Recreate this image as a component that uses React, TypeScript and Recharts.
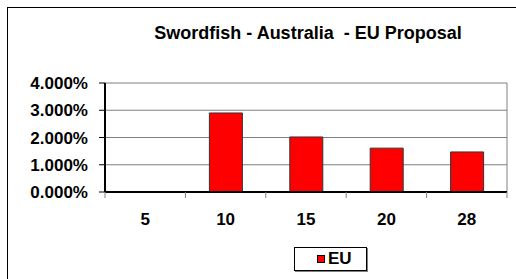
import React from 'react';
import { BarChart, Bar, XAxis, YAxis, CartesianGrid, Legend } from 'recharts';

const categories = ['5', '10', '15', '20', '28'];
const euValues = [0, 0.029, 0.0202, 0.0161, 0.0147];
const yTicks = [0, 0.01, 0.02, 0.03, 0.04];
const title = 'Swordfish - Australia  - EU Proposal';
const seriesName = 'EU';

const data = categories.map((c, i) => ({ cat: c, EU: euValues[i] }));

const FONT = '"Liberation Sans", Arial, sans-serif';

const XTick = (props: any) => {
  const { x, y, payload, index, visibleTicksCount } = props;
  const off = payload && typeof payload.offset === 'number' ? payload.offset : 0;
  const last = index === (visibleTicksCount ?? categories.length) - 1;
  return (
    <g>
      <line x1={x - off} x2={x - off} y1={y} y2={y + 6} stroke="#808080" strokeWidth={1} />
      {last && <line x1={x + off} x2={x + off} y1={y} y2={y + 6} stroke="#808080" strokeWidth={1} />}
      <text x={x} y={y + 33} textAnchor="middle" fontFamily={FONT} fontWeight="bold" fontSize={17} fill="#000">
        {payload.value}
      </text>
    </g>
  );
};

const LegendContent = () => (
  <div style={{ height: 32, position: 'relative' }}>
    <div
      style={{
        position: 'absolute',
        left: 294,
        top: 0,
        width: 71,
        height: 22,
        border: '1px solid #000',
        boxShadow: '1px 1px 0 #808080',
        background: '#fff',
        fontFamily: FONT,
        fontWeight: 'bold',
        fontSize: 17,
      }}
    >
      <div
        style={{
          position: 'absolute',
          left: 22,
          top: 7,
          width: 6,
          height: 6,
          background: '#FF0000',
          border: '1px solid #000',
        }}
      />
      <div style={{ position: 'absolute', left: 33, top: 2, lineHeight: '18px', color: '#000' }}>{seriesName}</div>
    </div>
  </div>
);

export default function App() {
  return (
    <div style={{ position: 'absolute', left: 0, top: 0, width: 516, height: 279, overflow: 'hidden', background: '#fff' }}>
      <div
        style={{
          position: 'absolute',
          left: 7,
          top: 7,
          width: 700,
          height: 500,
          border: '1px solid #000',
        }}
      />
      <div
        style={{
          position: 'absolute',
          left: 0,
          top: 24,
          width: 616,
          textAlign: 'center',
          fontFamily: FONT,
          fontWeight: 'bold',
          fontSize: 18,
          lineHeight: '18px',
          color: '#000',
          whiteSpace: 'pre',
          zIndex: 2,
        }}
      >
        {title}
      </div>
      <div style={{ position: 'absolute', left: 0, top: 0 }}>
        <BarChart width={516} height={279} data={data} margin={{ top: 83, right: 9, bottom: 0, left: 0 }}>
          <CartesianGrid
            stroke="#808080"
            strokeWidth={1}
            vertical={true}
            verticalCoordinatesGenerator={(p: any) => [p.offset.left + p.offset.width]}
          />
          <XAxis
            dataKey="cat"
            height={55}
            tickLine={false}
            tickSize={0}
            tickMargin={0}
            axisLine={{ stroke: '#000', strokeWidth: 2 }}
            tick={<XTick />}
            interval={0}
          />
          <YAxis
            width={105}
            domain={[0, 0.04]}
            ticks={yTicks}
            tickFormatter={(v: number) => (v * 100).toFixed(3) + '%'}
            axisLine={{ stroke: '#000', strokeWidth: 2 }}
            tickLine={{ stroke: '#000', strokeWidth: 1 }}
            tickSize={6}
            tickMargin={11}
            tick={{ fill: '#000', fontFamily: FONT, fontWeight: 'bold', fontSize: 17 }}
          />
          <Legend verticalAlign="bottom" content={<LegendContent />} />
          <Bar dataKey="EU" name={seriesName} fill="#FF0000" stroke="#333" strokeWidth={1} barSize={33} isAnimationActive={false} />
        </BarChart>
      </div>
    </div>
  );
}
